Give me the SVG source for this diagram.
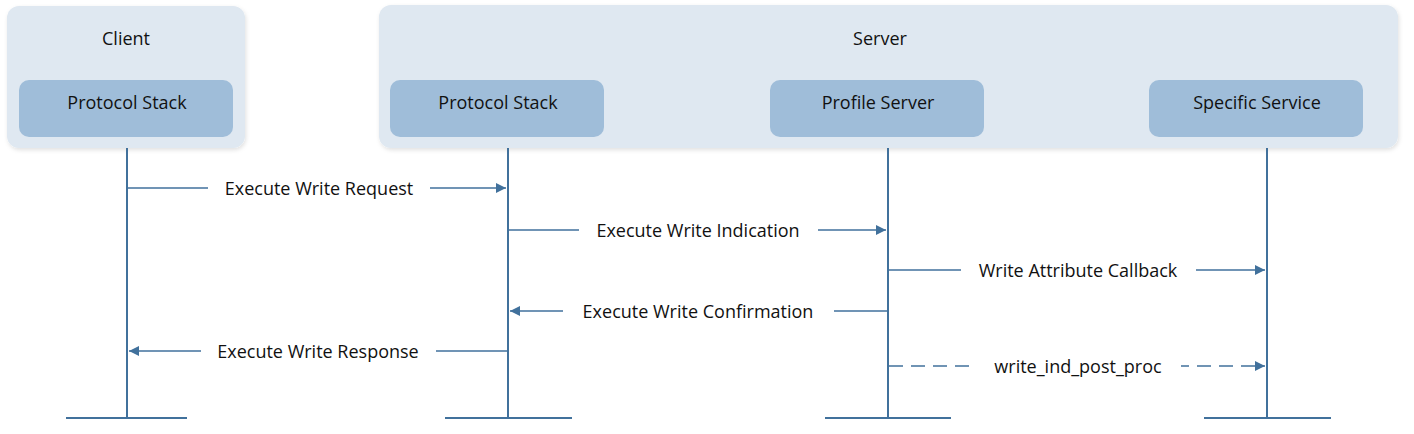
<svg xmlns="http://www.w3.org/2000/svg" width="1414" height="434" viewBox="0 0 1414 434">
<defs>
<marker id="ah" viewBox="0 0 10 10" refX="10" refY="5" markerWidth="12" markerHeight="10" markerUnits="userSpaceOnUse" orient="auto"><path d="M0,0L10,5L0,10z" fill="#41719c"/></marker>
<filter id="sh" x="-5%" y="-5%" width="110%" height="115%"><feDropShadow dx="1" dy="2" stdDeviation="2" flood-color="#000" flood-opacity="0.12"/></filter>
</defs>
<style>
.outer{fill:#dfe8f1;filter:url(#sh)}
.inner{fill:#9fbdd9}
text{font-family:"Open Sans","Noto Sans",sans-serif;font-size:18px;fill:#111;text-anchor:middle;dominant-baseline:central}
.life{stroke:#41719c;stroke-width:2;fill:none}
.msg{stroke:#41719c;stroke-width:1.6;fill:none;marker-end:url(#ah)}
.lbl{fill:#fff}
</style>
<g id="client"><rect class="outer" x="7" y="6" width="238" height="142" rx="12"/><text x="126" y="38">Client</text></g>
<g id="server"><rect class="outer" x="379" y="5" width="1019" height="143" rx="12"/><text x="880" y="38">Server</text></g>
<g id="client-stack"><rect class="inner" x="19" y="80" width="214" height="57" rx="10"/><text x="127" y="102">Protocol Stack</text></g>
<g id="server-stack"><rect class="inner" x="390" y="80" width="214" height="57" rx="10"/><text x="498" y="102">Protocol Stack</text></g>
<g id="profile-server"><rect class="inner" x="770" y="80" width="214" height="57" rx="10"/><text x="878" y="102">Profile Server</text></g>
<g id="specific-service"><rect class="inner" x="1149" y="80" width="214" height="57" rx="10"/><text x="1257" y="102">Specific Service</text></g>
<g id="connectors">
<path class="life" d="M127,148V418M66,418H187M508,148V418M445,418H572M888,148V418M825,418H951M1267,148V418M1204,418H1331"/>
<path class="msg" d="M128,188H506"/>
<rect class="lbl" x="208" y="178" width="222" height="20"/><text x="319" y="188">Execute Write Request</text>
<path class="msg" d="M509,230H886"/>
<rect class="lbl" x="579" y="220" width="239" height="20"/><text x="698" y="230">Execute Write Indication</text>
<path class="msg" d="M889,270H1265"/>
<rect class="lbl" x="961" y="260" width="235" height="20"/><text x="1078" y="270">Write Attribute Callback</text>
<path class="msg" d="M887,311H510"/>
<rect class="lbl" x="563" y="301" width="271" height="20"/><text x="698" y="311">Execute Write Confirmation</text>
<path class="msg" d="M507,351H129"/>
<rect class="lbl" x="201" y="341" width="235" height="20"/><text x="318" y="351">Execute Write Response</text>
<path class="msg" d="M889,366H1265" stroke-dasharray="14,8"/>
<rect class="lbl" x="977" y="356" width="204" height="20"/><text x="1078" y="366">write_ind_post_proc</text>
</g>
</svg>
